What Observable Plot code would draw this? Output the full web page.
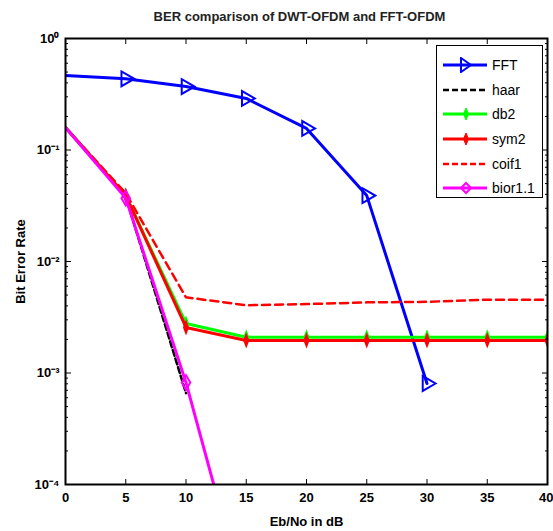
<!DOCTYPE html>
<html><head><meta charset="utf-8">
<script src="https://cdn.jsdelivr.net/npm/d3@7"></script>
<script src="https://cdn.jsdelivr.net/npm/@observablehq/plot@0.6"></script>
<style>
body{margin:0;background:#fff;font-family:"Liberation Sans",Arial,sans-serif;}
#wrap{position:relative;width:553px;height:531px;overflow:hidden;background:#fff}
#title{height:30px;box-sizing:border-box;padding-top:9px;line-height:16px;text-align:center;font-weight:bold;font-size:13px;color:#222;padding-left:46px}
#legend{position:absolute;left:436px;top:45px;width:107px;height:153px;box-sizing:border-box;border:1px solid #000;background:#fff;padding-top:7px}
.row{height:24.6px;display:flex;align-items:center;font-size:14px;color:#000}
.row svg{margin-left:5px;margin-right:4px}
</style>
</head><body>
<div id="wrap">
<div id="title">BER comparison of DWT-OFDM and FFT-OFDM</div>
<div id="chart"></div>
<div id="legend"></div>
</div>
<script>
// ---- data ----
const snr = [0, 5, 10, 15, 20, 25, 30, 35, 40];
const fftBER   = [0.466, 0.435, 0.371, 0.29, 0.156, 0.039, 8.05e-4];
const haarBER  = [0.159, 0.038, 6.6e-4];
const db2BER   = [0.159, 0.039, 2.78e-3, 2.09e-3, 2.09e-3, 2.09e-3, 2.09e-3, 2.09e-3, 2.09e-3];
const sym2BER  = [0.159, 0.039, 2.56e-3, 1.96e-3, 1.96e-3, 1.96e-3, 1.96e-3, 1.96e-3, 1.96e-3];
const coif1BER = [0.159, 0.041, 4.77e-3, 4.05e-3, 4.15e-3, 4.3e-3, 4.35e-3, 4.55e-3, 4.55e-3];
const bior11BER = [0.159, 0.037, 8.2e-4, 8.5e-6];
const seriesNames = ["FFT", "haar", "db2", "sym2", "coif1", "bior1.1"];
const seriesColors = ["#0000ff", "#000000", "#00ff00", "#ff0000", "#ff0000", "#ff00ff"];
const xTicks = [0, 5, 10, 15, 20, 25, 30, 35, 40];
const xTicksInner = [0, 5, 10, 15, 20, 25, 30, 35];
const xTicksEdge = [40];
const yTicks = [1e-4, 1e-3, 1e-2, 1e-1, 1];
const yTickLabels = ["10\u207B\u2074", "10\u207B\u00B3", "10\u207B\u00B2", "10\u207B\u00B9", "10\u2070"];
const yMinorTicks = [2e-4,3e-4,4e-4,5e-4,6e-4,7e-4,8e-4,9e-4,
                     2e-3,3e-3,4e-3,5e-3,6e-3,7e-3,8e-3,9e-3,
                     2e-2,3e-2,4e-2,5e-2,6e-2,7e-2,8e-2,9e-2,
                     0.2,0.3,0.4,0.5,0.6,0.7,0.8,0.9];
const titleText = "BER comparison of DWT-OFDM and FFT-OFDM";
const xLabel = "Eb/No in dB";
const yLabel = "Bit Error Rate";

const toRows = (name, ys) => ys.map((y, i) => ({x: snr[i], y, name}));
const fft = toRows("FFT", fftBER);
const haar = toRows("haar", haarBER);
const db2 = toRows("db2", db2BER);
const sym2 = toRows("sym2", sym2BER);
const coif1 = toRows("coif1", coif1BER);
const bior = toRows("bior1.1", bior11BER);

const narrowDiamond = {
  draw(ctx, size) {
    const s = Math.sqrt(size / Math.PI);
    ctx.moveTo(0, -1.2 * s); ctx.lineTo(0.45 * s, 0); ctx.lineTo(0, 1.2 * s); ctx.lineTo(-0.45 * s, 0); ctx.closePath();
  }
};

document.getElementById("title").textContent = titleText;

const chart = Plot.plot({
  width: 553, height: 501,
  marginTop: 8, marginBottom: 47, marginLeft: 65, marginRight: 6,
  style: {fontFamily: "'Liberation Sans', Arial, sans-serif", fontSize: "13px", fontWeight: "bold", background: "#fff", color: "#000", overflow: "visible"},
  x: {type: "linear", domain: [0, 40]},
  y: {type: "log", domain: [1e-4, 1]},
  marks: [
    Plot.line(fft, {x: "x", y: "y", stroke: seriesColors[0], strokeWidth: 3, clip: true}),
    Plot.dot(fft.filter(d => d.x > 0), {x: "x", y: "y", symbol: "triangle", rotate: 90, r: 5.5, stroke: seriesColors[0], strokeWidth: 2, fill: "none", clip: true}),
    Plot.line(haar, {x: "x", y: "y", stroke: seriesColors[1], strokeWidth: 2.5, strokeDasharray: "6,3", clip: true}),
    Plot.line(db2, {x: "x", y: "y", stroke: seriesColors[2], strokeWidth: 3, clip: true}),
    Plot.dot(db2.filter(d => d.x > 0), {x: "x", y: "y", symbol: narrowDiamond, r: 5, fill: seriesColors[2], stroke: seriesColors[2], clip: true}),
    Plot.line(sym2, {x: "x", y: "y", stroke: seriesColors[3], strokeWidth: 3, clip: true}),
    Plot.dot(sym2.filter(d => d.x > 0), {x: "x", y: "y", symbol: narrowDiamond, r: 5, fill: seriesColors[3], stroke: seriesColors[3], clip: true}),
    Plot.line(coif1, {x: "x", y: "y", stroke: seriesColors[4], strokeWidth: 2.5, strokeDasharray: "8,5", clip: true}),
    Plot.line(bior, {x: "x", y: "y", stroke: seriesColors[5], strokeWidth: 3, clip: true}),
    Plot.dot(bior.filter(d => d.x > 0 && d.x <= 10), {x: "x", y: "y", symbol: "diamond", r: 4.5, stroke: seriesColors[5], strokeWidth: 2, fill: "none", clip: true}),
    Plot.frame({stroke: "#000", strokeWidth: 2}),
    Plot.axisX({anchor: "bottom", ticks: xTicksInner, tickSize: -5, tickPadding: 13, tickFormat: d => String(d), label: xLabel, labelAnchor: "center", labelOffset: 41, labelArrow: "none"}),
    Plot.axisX({anchor: "bottom", ticks: xTicksEdge, tickSize: -5, tickPadding: 13, tickFormat: d => String(d), textAnchor: "end", dx: 6, label: null}),
    Plot.axisX({anchor: "top", ticks: xTicks, tickSize: -5, tickFormat: () => "", label: null}),
    Plot.axisY({anchor: "left", ticks: yTicks, tickSize: -6, tickPadding: 12, tickFormat: d => yTickLabels[yTicks.indexOf(d)], label: yLabel, labelAnchor: "center", labelOffset: 50, labelArrow: "none"}),
    Plot.axisY({anchor: "left", ticks: yMinorTicks, tickSize: -3, tickFormat: () => "", label: null}),
    Plot.axisY({anchor: "right", ticks: yTicks, tickSize: -6, tickFormat: () => "", label: null}),
    Plot.axisY({anchor: "right", ticks: yMinorTicks, tickSize: -3, tickFormat: () => "", label: null})
  ]
});
document.getElementById("chart").appendChild(chart);

// ---- legend ----
const legendStyles = [
  {dash: null, marker: "tri"},
  {dash: "6,3", marker: null},
  {dash: null, marker: "nd"},
  {dash: null, marker: "nd"},
  {dash: "6,3", marker: null},
  {dash: null, marker: "dia"}
];
const legend = document.getElementById("legend");
seriesNames.forEach((name, i) => {
  const c = seriesColors[i];
  const st = legendStyles[i];
  let marker = "";
  if (st.marker === "tri") marker = `<polygon points="19,1 29,8 19,15" fill="none" stroke="${c}" stroke-width="2"/>`;
  if (st.marker === "nd") marker = `<polygon points="24,2 26.5,8 24,14 21.5,8" fill="${c}" stroke="${c}"/>`;
  if (st.marker === "dia") marker = `<polygon points="24,3 29,8 24,13 19,8" fill="none" stroke="${c}" stroke-width="2"/>`;
  const row = document.createElement("div");
  row.className = "row";
  row.innerHTML = `<svg width="46" height="16"><line x1="1" y1="8" x2="45" y2="8" stroke="${c}" stroke-width="${st.dash ? 2.5 : 3}" ${st.dash ? `stroke-dasharray="${st.dash}"` : ""}/>${marker}</svg><span>${name}</span>`;
  legend.appendChild(row);
});
</script>
</body></html>
